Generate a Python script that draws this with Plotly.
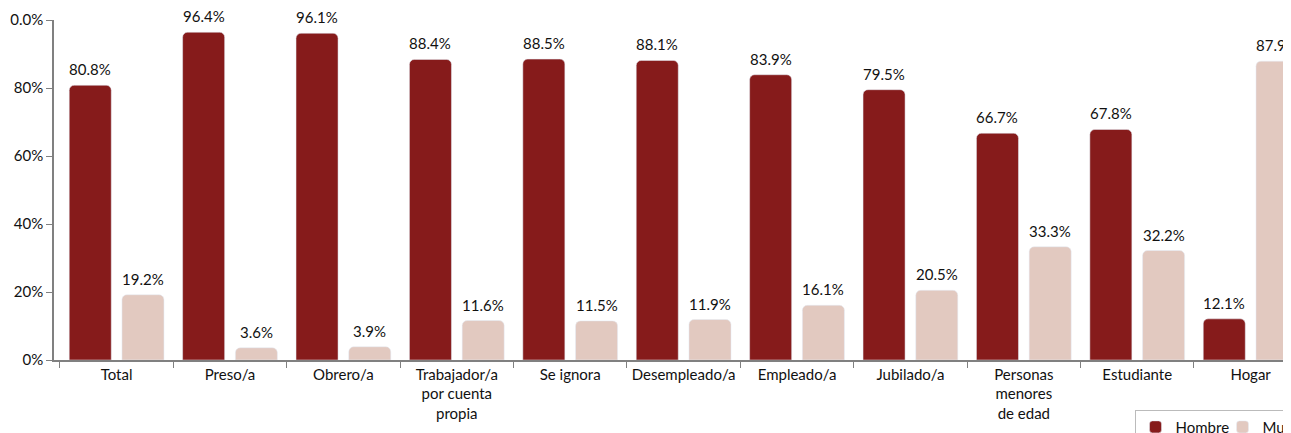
import plotly.graph_objects as go

categories = ["Total", "Preso/a", "Obrero/a", "Trabajador/a<br>por cuenta<br>propia", "Se ignora",
              "Desempleado/a", "Empleado/a", "Jubilado/a", "Personas<br>menores<br>de edad",
              "Estudiante", "Hogar"]
hombre = [80.8, 96.4, 96.1, 88.4, 88.5, 88.1, 83.9, 79.5, 66.7, 67.8, 12.1]
mujer = [19.2, 3.6, 3.9, 11.6, 11.5, 11.9, 16.1, 20.5, 33.3, 32.2, 87.9]
y_tickvals = [0, 20, 40, 60, 80, 100]
y_ticktext = ["0%", "20%", "40%", "60%", "80%", "0.0%"]

C_H = "#861B1B"
C_M = "#E2C9C0"
FONT = "Lato"

fig = go.Figure()
fig.add_trace(go.Bar(name="Hombre", x=categories, y=hombre, marker_color=C_H))
fig.add_trace(go.Bar(name="Mujer", x=categories, y=mujer, marker_color=C_M))

ann = []
for series, shift in ((hombre, -26.4), (mujer, 26.4)):
    for c, v in zip(categories, series):
        ann.append(dict(x=c, y=v, text=f"{v:.1f}%", showarrow=False, xshift=shift,
                        yshift=16, yanchor="middle", font=dict(family=FONT, size=15, color="#111")))

fig.update_layout(
    width=1291, height=433,
    margin=dict(l=46, r=8, t=12, b=81, autoexpand=False),
    plot_bgcolor="white", paper_bgcolor="white",
    barmode="group", bargap=0.07, bargroupgap=0.203, barcornerradius=5,
    font=dict(family=FONT, size=15, color="#111"),
    annotations=ann,
    showlegend=True,
    legend=dict(orientation="h", x=0.8735, y=-0.146, xanchor="left", yanchor="top",
                bordercolor="#BBBBBB", borderwidth=1, font=dict(family=FONT, size=15),
                itemwidth=30, entrywidth=42, entrywidthmode="pixels", traceorder="normal"),
)
fig.update_xaxes(type="category", range=[-0.552, 10.356], showline=True, linecolor="#808080",
                 linewidth=1.5, ticks="outside", tickson="boundaries", ticklen=6,
                 tickcolor="#808080", showgrid=False, tickfont=dict(family=FONT, size=15),
                 tickangle=0)
fig.update_yaxes(range=[0, 100], tickvals=y_tickvals, ticktext=y_ticktext, showline=True,
                 linecolor="#808080", linewidth=1.5, ticks="outside", ticklen=6,
                 tickcolor="#808080", showgrid=False, zeroline=False,
                 tickfont=dict(family=FONT, size=15))

fig.write_html("out.html")
